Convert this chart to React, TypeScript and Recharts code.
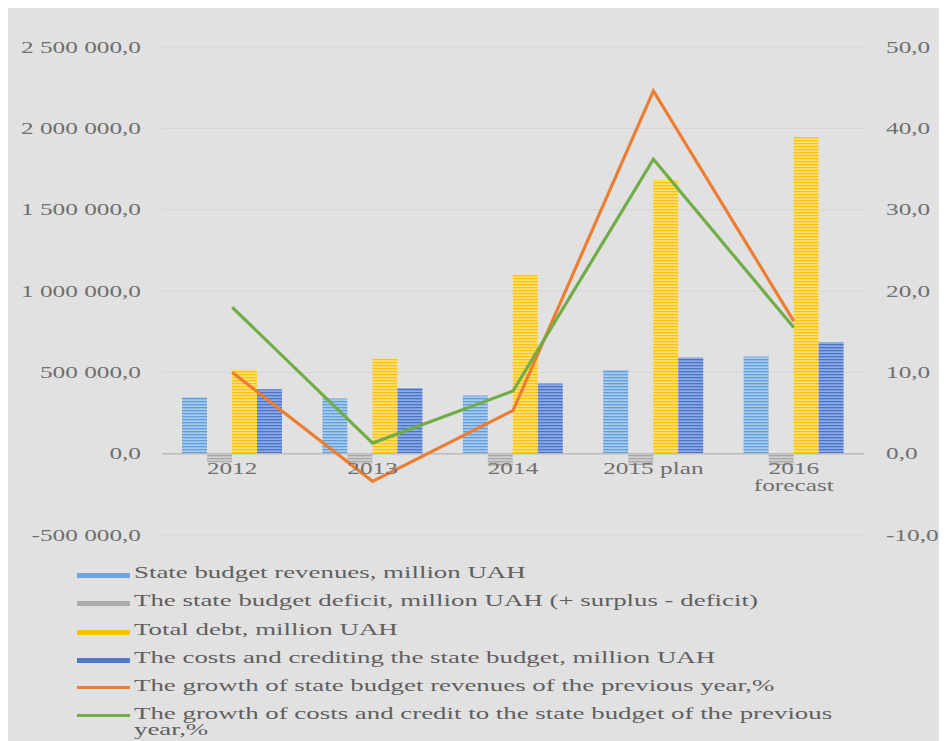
import { Bar, CartesianGrid, ComposedChart, Line, ReferenceLine, XAxis, YAxis } from "recharts";

// Values (million UAH on the left axis, % on the right one).
const years = ["2012", "2013", "2014", "2015 plan", "2016 forecast"];
const revenues = [346100, 339200, 357100, 515000, 598000];
const deficit = [-53400, -64700, -78100, -70000, -70000];
const totalDebt = [515500, 584400, 1100800, 1683000, 1947000];
const costs = [395700, 403400, 432000, 591000, 685000];
const revenueGrowth = [10.0, -3.4, 5.3, 44.6, 16.3];
const costGrowth = [18.0, 1.3, 7.7, 36.2, 15.5];

const leftTicks = [-500000, 0, 500000, 1000000, 1500000, 2000000, 2500000];
const rightTicks = [-10, 0, 10, 20, 30, 40, 50];

const data = years.map((year, i) => ({
  year,
  revenues: revenues[i],
  deficit: deficit[i],
  totalDebt: totalDebt[i],
  costs: costs[i],
  revenueGrowth: revenueGrowth[i],
  costGrowth: costGrowth[i],
}));

// The source picture is stretched sideways, so all text gets the same squash.
const STRETCH = 1.58;
const FONT = '"Liberation Serif", "Times New Roman", serif';
const INK = "#6f6f6f";

const WIDTH = 939;
const CHART_H = 560;
const X_AXIS_H = 20;
const MARGIN = { top: 39, right: 0, bottom: 33 - X_AXIS_H, left: 0 };
// category labels sit just under the zero line, not at the plot bottom
const ZERO_FROM_BOTTOM = (CHART_H - MARGIN.top - MARGIN.bottom - X_AXIS_H) / 6;

const fmtMoney = (v: number) => {
  const s = Math.abs(v).toFixed(0).replace(/\B(?=(\d{3})+(?!\d))/g, " ");
  return `${v < 0 ? "-" : ""}${s},0`;
};
const fmtPct = (v: number) => `${v.toFixed(1).replace(".", ",")}`;

const StretchedText = ({ x, y, anchor, children }: any) => (
  <text
    transform={`translate(${x},${y}) scale(${STRETCH},1)`}
    textAnchor={anchor}
    fontFamily={FONT}
    fontSize={16}
    fill={INK}
    dy="0.35em"
  >
    {children}
  </text>
);

const LeftTick = ({ x, y, payload }: any) => (
  <StretchedText x={x} y={y} anchor="end">
    {fmtMoney(payload.value)}
  </StretchedText>
);

const RightTick = ({ x, y, payload }: any) => (
  <StretchedText x={x} y={y} anchor="start">
    {fmtPct(payload.value)}
  </StretchedText>
);

const YearTick = ({ x, y, payload }: any) => {
  const words = String(payload.value).split(" ");
  const lines = words[1] === "forecast" ? [words[0], words[1]] : [String(payload.value)];
  const top = y - ZERO_FROM_BOTTOM + 13;
  return (
    <g>
      {lines.map((line: string, i: number) => (
        <StretchedText key={line} x={x} y={top + i * 17} anchor="middle">
          {line}
        </StretchedText>
      ))}
    </g>
  );
};

const stripes = [
  { id: "revStripe", base: "#a9cbee", line: "#5f9ddb" },
  { id: "defStripe", base: "#cfcfcf", line: "#a8a8a8" },
  { id: "debtStripe", base: "#ffdf75", line: "#ffc20a" },
  { id: "costStripe", base: "#8eaae6", line: "#4a74c6" },
];

const legendItems = [
  { label: "State budget revenues, million UAH", color: "#6ea7e0", kind: "bar" },
  { label: "The state budget deficit, million UAH (+ surplus - deficit)", color: "#acacac", kind: "bar" },
  { label: "Total debt, million UAH", color: "#ffc000", kind: "bar" },
  { label: "The costs and crediting the state budget, million UAH", color: "#4f78c8", kind: "bar" },
  { label: "The growth of state budget revenues of the previous year,%", color: "#ed7d31", kind: "line" },
  { label: "The growth of costs and credit to the state budget of the previous year,%", color: "#70ad47", kind: "line" },
];

const Legend = () => (
  <div style={{ position: "absolute", left: 69, top: 555 }}>
    {legendItems.map((item) => (
      <div key={item.label} style={{ position: "relative", height: 28.3 }}>
        <div
          style={{
            position: "absolute",
            left: 0,
            top: 10,
            width: 53,
            height: item.kind === "bar" ? 5 : 3,
            background: item.color,
          }}
        />
        <div
          style={{
            position: "absolute",
            left: 57,
            top: 2,
            width: 450,
            fontFamily: FONT,
            fontSize: 17,
            lineHeight: "16px",
            color: "#5f5f5f",
            transform: `scaleX(${STRETCH})`,
            transformOrigin: "left top",
          }}
        >
          {item.label}
        </div>
      </div>
    ))}
  </div>
);

export default function App() {
  return (
    <div style={{ position: "relative", width: WIDTH, height: 733, background: "#e1e1e1" }}>
      <ComposedChart
        width={WIDTH}
        height={CHART_H}
        data={data}
        margin={MARGIN}
        barCategoryGap={20}
        barGap={0}
      >
        <defs>
          {stripes.map((s) => (
            <pattern key={s.id} id={s.id} width={6} height={3} patternUnits="userSpaceOnUse">
              <rect width={6} height={3} fill={s.base} />
              <rect y={0} width={6} height={1.3} fill={s.line} />
            </pattern>
          ))}
        </defs>
        <CartesianGrid horizontal vertical={false} stroke="#d5d5d5" yAxisId="left" />
        <XAxis
          dataKey="year"
          axisLine={false}
          tickLine={false}
          height={X_AXIS_H}
          tickSize={0}
          tickMargin={2}
          tick={<YearTick />}
          interval={0}
        />
        <YAxis
          yAxisId="left"
          width={154}
          domain={[-500000, 2500000]}
          ticks={leftTicks}
          axisLine={false}
          tickLine={false}
          tickSize={0}
          tickMargin={21}
          tick={<LeftTick />}
        />
        <YAxis
          yAxisId="right"
          orientation="right"
          width={83}
          domain={[-10, 50]}
          ticks={rightTicks}
          axisLine={false}
          tickLine={false}
          tickSize={0}
          tickMargin={22}
          tick={<RightTick />}
        />
        <ReferenceLine yAxisId="left" y={0} stroke="#bcbcbc" strokeWidth={1.5} />
        <Bar yAxisId="left" dataKey="revenues" fill="url(#revStripe)" isAnimationActive={false} />
        <Bar yAxisId="left" dataKey="deficit" fill="url(#defStripe)" isAnimationActive={false} />
        <Bar yAxisId="left" dataKey="totalDebt" fill="url(#debtStripe)" isAnimationActive={false} />
        <Bar yAxisId="left" dataKey="costs" fill="url(#costStripe)" isAnimationActive={false} />
        <Line
          yAxisId="right"
          type="linear"
          dataKey="revenueGrowth"
          stroke="#ed7d31"
          strokeWidth={3.2}
          dot={false}
          activeDot={false}
          isAnimationActive={false}
        />
        <Line
          yAxisId="right"
          type="linear"
          dataKey="costGrowth"
          stroke="#70ad47"
          strokeWidth={3.2}
          dot={false}
          activeDot={false}
          isAnimationActive={false}
        />
      </ComposedChart>
      <Legend />
    </div>
  );
}
